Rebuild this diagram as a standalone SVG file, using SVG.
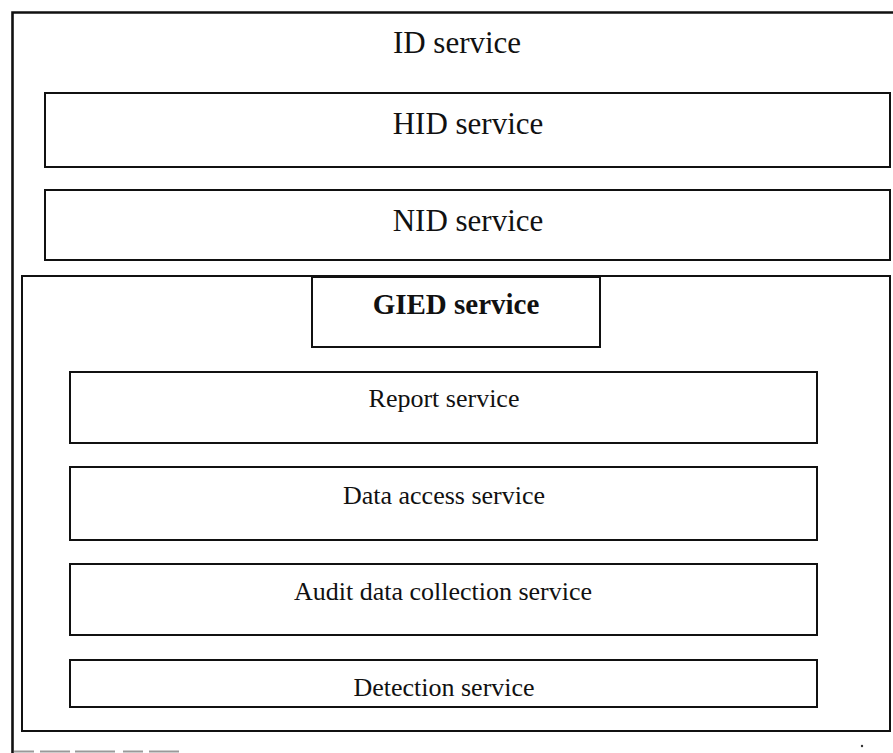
<svg xmlns="http://www.w3.org/2000/svg" width="893" height="753" viewBox="0 0 893 753">
<style>
.box{fill:none;stroke:#111;stroke-width:2}
.outer{fill:none;stroke:#111;stroke-width:2.6}
.t{font-family:"Liberation Serif","Times New Roman",serif;fill:#111;text-anchor:middle}
.big{font-size:31px}
.mid{font-size:26px}
.bold{font-size:29px;font-weight:bold}
</style>
<rect width="893" height="753" fill="#fff"/>
<g id="id-service">
<path class="outer" d="M893,12.5 H12.5 V753"/>
<path d="M14,751.5 H180" stroke="#999" stroke-width="2" stroke-dasharray="20,6,30,5,40,8"/>
<text class="t big" x="457" y="53">ID service</text>
</g>
<g id="hid-service">
<rect class="box" x="45" y="93" width="845" height="74"/>
<text class="t big" x="468" y="134">HID service</text>
</g>
<g id="nid-service">
<rect class="box" x="45" y="190" width="845" height="70"/>
<text class="t big" x="468" y="231">NID service</text>
</g>
<g id="gied-container">
<rect class="box" x="22" y="276" width="868" height="455"/>
</g>
<g id="gied-service">
<rect class="box" x="312" y="277" width="288" height="70"/>
<text class="t bold" x="456" y="314">GIED service</text>
</g>
<g id="report-service">
<rect class="box" x="70" y="372" width="747" height="71"/>
<text class="t mid" x="444" y="407">Report service</text>
</g>
<g id="data-access-service">
<rect class="box" x="70" y="467" width="747" height="73"/>
<text class="t mid" x="444" y="504">Data access service</text>
</g>
<g id="audit-data-collection-service">
<rect class="box" x="70" y="564" width="747" height="71"/>
<text class="t mid" x="443" y="600">Audit data collection service</text>
</g>
<g id="detection-service">
<rect class="box" x="70" y="660" width="747" height="47"/>
<text class="t mid" x="444" y="696">Detection service</text>
</g>
<g id="connectors"></g>
<circle cx="862" cy="746" r="1.2" fill="#333"/>
</svg>
